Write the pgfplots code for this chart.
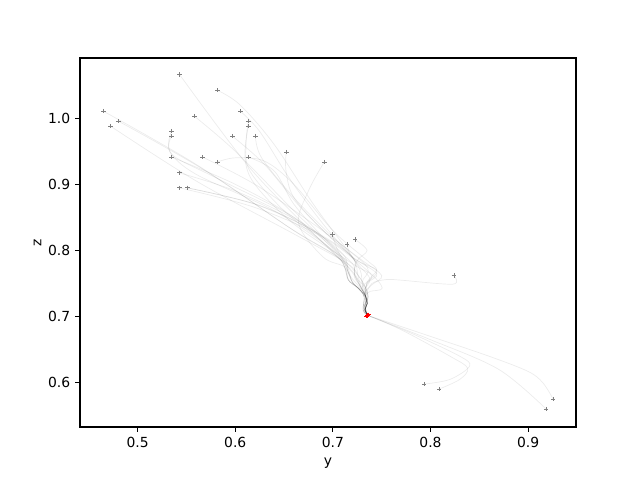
\documentclass[border=0pt]{standalone}
\usepackage{pgfplots}
\pgfplotsset{compat=1.18}
\usepackage{fontspec}
\setmainfont{DejaVu Sans}

% trajectories drawn faint so that overlaps darken
\tikzset{
  traj/.style={smooth, tension=0.55, draw=black, draw opacity=0.075, line width=0.5pt, mark=none},
}

\begin{document}
\begin{tikzpicture}
\path[use as bounding box] (-57.6pt,-38.16pt) rectangle (403.2pt,307.44pt);
\begin{axis}[
    at={(0,0)}, anchor=south west,
    scale only axis,
    width=357.1pt, height=265.7pt,
    xmin=0.441, xmax=0.949,
    ymin=0.533, ymax=1.091,
    xtick={0.5,0.6,0.7,0.8,0.9},
    ytick={0.6,0.7,0.8,0.9,1.0},
    xlabel={y}, ylabel={z},
    tick align=outside,
    major tick length=3.5pt,
    tick style={black, line width=0.8pt},
    axis line style={line width=0.8pt},
    xtick pos=bottom, ytick pos=left,
    /pgf/number format/assume math mode=true,
    /pgf/number format/fixed,
    /pgf/number format/fixed zerofill,
    /pgf/number format/precision=1,
    tick label style={font=\fontsize{10}{12}\selectfont},
    label style={font=\fontsize{10}{12}\selectfont},
    xlabel style={yshift=-1pt},
    ylabel style={yshift=-2pt},
    clip=true,
]
% upper-left starts
\addplot[traj] coordinates {(0.465,1.0105) (0.56,0.93) (0.656,0.834) (0.70,0.795) (0.722,0.765) (0.728,0.746) (0.7335,0.731) (0.7352,0.72) (0.733,0.711) (0.7356,0.7018)};
\addplot[traj] coordinates {(0.4803,0.9955) (0.57,0.92) (0.66,0.83) (0.705,0.79) (0.715,0.77) (0.72,0.752) (0.728,0.74) (0.734,0.728) (0.732,0.712) (0.7356,0.7018)};
\addplot[traj] coordinates {(0.4722,0.988) (0.56,0.905) (0.66,0.825) (0.715,0.78) (0.726,0.762) (0.733,0.745) (0.736,0.73) (0.733,0.716) (0.7356,0.7018)};
\addplot[traj] coordinates {(0.5428,1.0663) (0.612,0.93) (0.67,0.84) (0.705,0.79) (0.712,0.775) (0.716,0.755) (0.726,0.743) (0.732,0.73) (0.731,0.71) (0.7356,0.7018)};
\addplot[traj] coordinates {(0.5817,1.0422) (0.605,1.02) (0.64,0.96) (0.68,0.87) (0.715,0.80) (0.728,0.77) (0.73,0.748) (0.7335,0.731) (0.7352,0.72) (0.733,0.711) (0.7356,0.7018)};
\addplot[traj] coordinates {(0.5581,1.003) (0.60,0.95) (0.66,0.86) (0.705,0.795) (0.715,0.77) (0.72,0.752) (0.728,0.74) (0.734,0.728) (0.732,0.712) (0.7356,0.7018)};
\addplot[traj] coordinates {(0.6052,1.0105) (0.625,0.98) (0.655,0.91) (0.69,0.84) (0.725,0.78) (0.738,0.757) (0.732,0.74) (0.7345,0.728) (0.7352,0.72) (0.733,0.711) (0.7356,0.7018)};
\addplot[traj] coordinates {(0.6134,0.9955) (0.611,0.96) (0.615,0.92) (0.65,0.86) (0.70,0.80) (0.712,0.775) (0.716,0.755) (0.726,0.743) (0.732,0.73) (0.731,0.71) (0.7356,0.7018)};
\addplot[traj] coordinates {(0.6134,0.988) (0.61,0.94) (0.62,0.90) (0.66,0.84) (0.72,0.78) (0.74,0.762) (0.73,0.745) (0.7335,0.731) (0.7352,0.72) (0.733,0.711) (0.7356,0.7018)};
\addplot[traj] coordinates {(0.5346,0.9804) (0.533,0.95) (0.56,0.915) (0.64,0.86) (0.70,0.80) (0.718,0.77) (0.726,0.755) (0.733,0.745) (0.736,0.73) (0.733,0.716) (0.7356,0.7018)};
\addplot[traj] coordinates {(0.5346,0.9729) (0.535,0.945) (0.58,0.91) (0.66,0.85) (0.71,0.79) (0.716,0.765) (0.727,0.745) (0.7335,0.731) (0.7352,0.72) (0.733,0.711) (0.7356,0.7018)};
\addplot[traj] coordinates {(0.597,0.9729) (0.63,0.93) (0.67,0.86) (0.72,0.79) (0.745,0.77) (0.735,0.75) (0.7335,0.731) (0.7352,0.72) (0.733,0.711) (0.7356,0.7018)};
\addplot[traj] coordinates {(0.6206,0.9729) (0.627,0.94) (0.66,0.88) (0.70,0.82) (0.735,0.775) (0.73,0.752) (0.736,0.73) (0.733,0.716) (0.7356,0.7018)};
\addplot[traj] coordinates {(0.6523,0.9488) (0.652,0.92) (0.66,0.88) (0.69,0.83) (0.72,0.79) (0.726,0.76) (0.729,0.745) (0.7335,0.731) (0.7352,0.72) (0.733,0.711) (0.7356,0.7018)};
\addplot[traj] coordinates {(0.5346,0.9413) (0.60,0.90) (0.66,0.85) (0.705,0.79) (0.712,0.775) (0.716,0.755) (0.726,0.743) (0.732,0.73) (0.731,0.71) (0.7356,0.7018)};
\addplot[traj] coordinates {(0.5663,0.9413) (0.62,0.90) (0.68,0.84) (0.73,0.785) (0.75,0.762) (0.74,0.748) (0.732,0.735) (0.7352,0.72) (0.733,0.711) (0.7356,0.7018)};
\addplot[traj] coordinates {(0.6134,0.9413) (0.64,0.92) (0.66,0.87) (0.69,0.82) (0.72,0.78) (0.722,0.76) (0.728,0.746) (0.7335,0.731) (0.7352,0.72) (0.733,0.711) (0.7356,0.7018)};
\addplot[traj] coordinates {(0.5817,0.9337) (0.60,0.94) (0.63,0.935) (0.66,0.90) (0.70,0.83) (0.735,0.785) (0.7448,0.7705) (0.735,0.752) (0.7335,0.731) (0.7352,0.72) (0.733,0.711) (0.7356,0.7018)};
\addplot[traj] coordinates {(0.5428,0.9172) (0.60,0.89) (0.67,0.84) (0.71,0.795) (0.715,0.77) (0.72,0.752) (0.728,0.74) (0.734,0.728) (0.732,0.712) (0.7356,0.7018)};
\addplot[traj] coordinates {(0.5428,0.8946) (0.62,0.865) (0.69,0.82) (0.735,0.77) (0.7506,0.7434) (0.738,0.738) (0.7335,0.731) (0.7352,0.72) (0.733,0.711) (0.7356,0.7018)};
\addplot[traj] coordinates {(0.551,0.8946) (0.62,0.87) (0.68,0.83) (0.72,0.79) (0.722,0.765) (0.728,0.746) (0.7335,0.731) (0.7352,0.72) (0.733,0.711) (0.7356,0.7018)};
\addplot[traj] coordinates {(0.551,0.8946) (0.625,0.868) (0.685,0.825) (0.712,0.785) (0.726,0.762) (0.733,0.745) (0.736,0.73) (0.733,0.716) (0.7356,0.7018)};
\addplot[traj] coordinates {(0.6912,0.9337) (0.675,0.89) (0.665,0.84) (0.69,0.79) (0.712,0.775) (0.716,0.755) (0.726,0.743) (0.732,0.73) (0.731,0.71) (0.7356,0.7018)};
% starts near the cluster
\addplot[traj] coordinates {(0.6994,0.8238) (0.705,0.80) (0.715,0.775) (0.72,0.752) (0.728,0.74) (0.734,0.728) (0.732,0.712) (0.7356,0.7018)};
\addplot[traj] coordinates {(0.7147,0.8087) (0.72,0.79) (0.745,0.765) (0.735,0.75) (0.7335,0.731) (0.7352,0.72) (0.733,0.711) (0.7356,0.7018)};
\addplot[traj] coordinates {(0.7229,0.8163) (0.735,0.80) (0.725,0.785) (0.722,0.765) (0.728,0.746) (0.7335,0.731) (0.7352,0.72) (0.733,0.711) (0.7356,0.7018)};
\addplot[traj] coordinates {(0.824,0.762) (0.823,0.749) (0.77,0.755) (0.755,0.756) (0.74,0.75) (0.7335,0.731) (0.7352,0.72) (0.733,0.711) (0.7356,0.7018)};
% lower-right starts
\addplot[traj] coordinates {(0.7935,0.5979) (0.82,0.605) (0.84,0.625) (0.83,0.64) (0.78,0.675) (0.7356,0.7018)};
\addplot[traj] coordinates {(0.8089,0.5904) (0.83,0.605) (0.838,0.622) (0.82,0.64) (0.77,0.68) (0.7356,0.7018)};
\addplot[traj] coordinates {(0.9256,0.5753) (0.915,0.60) (0.90,0.617) (0.86,0.64) (0.80,0.67) (0.7356,0.7018)};
\addplot[traj] coordinates {(0.9184,0.5602) (0.87,0.62) (0.80,0.665) (0.7356,0.7018)};
% start markers
\addplot[only marks, mark=+, mark size=1.6pt, draw=black!50, line width=0.6pt] coordinates {
(0.465,1.0105) (0.4803,0.9955) (0.4722,0.988) (0.5581,1.003) (0.6052,1.0105)
(0.6134,0.9955) (0.6134,0.988) (0.5346,0.9804) (0.5346,0.9729) (0.597,0.9729)
(0.6206,0.9729) (0.6523,0.9488) (0.5346,0.9413) (0.5663,0.9413) (0.6134,0.9413)
(0.5817,0.9337) (0.5428,0.9172) (0.5428,0.8946) (0.551,0.8946) (0.551,0.8946)
(0.5428,1.0663) (0.5817,1.0422) (0.6912,0.9337) (0.6994,0.8238) (0.7147,0.8087)
(0.7229,0.8163) (0.824,0.762) (0.7935,0.5979) (0.8089,0.5904) (0.9256,0.5753)
(0.9184,0.5602)
};
% end markers
\addplot[only marks, mark=+, mark size=1.6pt, draw=red, line width=0.7pt] coordinates {
(0.7356,0.7018) (0.7346,0.7008) (0.7364,0.7026) (0.7352,0.7022)
};
\end{axis}
\end{tikzpicture}
\end{document}
